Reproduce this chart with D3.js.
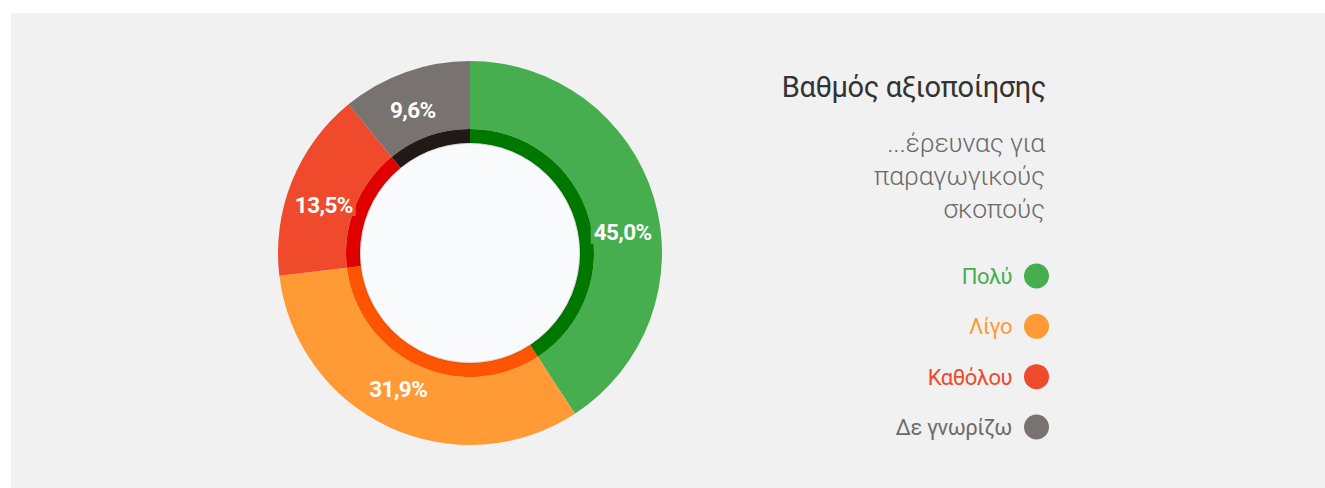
<!DOCTYPE html>
<html>
<head>
<meta charset="utf-8">
<script src="https://cdn.jsdelivr.net/npm/d3@7"></script>
<style>
  html, body { margin: 0; padding: 0; background: #ffffff; }
  svg { display: block; font-family: Roboto, "Noto Sans", sans-serif; }
</style>
</head>
<body>
<svg id="chart" width="1325" height="488"></svg>
<script>
// ---- data ----
const categories = ["Πολύ", "Λίγο", "Καθόλου", "Δε γνωρίζω"];
const values = [45.0, 31.9, 13.5, 9.6];              // printed percentages
const sliceShares = [40.8, 32.3, 16.0, 10.9];         // drawn slice sizes
const titleText = "Βαθμός αξιοποίησης";
const subtitleLines = ["...έρευνας για", "παραγωγικούς", "σκοπούς"];

// ---- styles / layout ----
const outerColors = ["#46ae4e", "#ff9a35", "#ee4a2b", "#787371"];
const innerColors = ["#007800", "#ff5500", "#e10000", "#221818"];
const legendColors = ["#46ae4e", "#ff9a35", "#ee4a2b", "#6f6b6a"];
const labelOffsetDeg = [8.8, 2.75, -3.65, -2.2];

const svg = d3.select("#chart");
svg.append("rect").attr("x", 11).attr("y", 13).attr("width", 1314).attr("height", 475).attr("fill", "#f1f1f1");

const defs = svg.append("defs");
const f = defs.append("filter").attr("id", "shadow").attr("x", "-20%").attr("y", "-20%").attr("width", "140%").attr("height", "140%");
f.append("feDropShadow").attr("dx", 0).attr("dy", 0).attr("stdDeviation", 1.2).attr("flood-color", "#000").attr("flood-opacity", 0.25);

const cx = 470, cy = 253;
const g = svg.append("g").attr("transform", `translate(${cx},${cy})`);

const pie = d3.pie().sort(null).value(d => d.share);
const rows = categories.map((c, i) => ({ cat: c, value: values[i], share: sliceShares[i], i }));
const arcs = pie(rows);

const outerArc = d3.arc().innerRadius(124).outerRadius(192);
const innerArc = d3.arc().innerRadius(109).outerRadius(124);

g.selectAll("path.outer").data(arcs).join("path")
  .attr("class", "outer")
  .attr("d", outerArc)
  .attr("fill", d => outerColors[d.data.i]);

g.selectAll("path.inner").data(arcs).join("path")
  .attr("class", "inner")
  .attr("d", innerArc)
  .attr("fill", d => innerColors[d.data.i]);

g.append("circle").attr("r", 109.5).attr("fill", "#f9fafc").attr("stroke", "#d8d8d8").attr("stroke-width", 1).attr("filter", "url(#shadow)");

// labels
const fmt = v => d3.format(".1f")(v).replace(".", ",") + "%";
const labelR = 154;
const lab = g.selectAll("g.lab").data(arcs).join("g").attr("class", "lab")
  .attr("transform", d => {
    const a = (d.startAngle + d.endAngle) / 2 + labelOffsetDeg[d.data.i] * Math.PI / 180;
    return `translate(${labelR * Math.sin(a)},${-labelR * Math.cos(a)})`;
  });
lab.append("rect").attr("fill", d => outerColors[d.data.i]);
lab.append("text")
  .attr("text-anchor", "middle")
  .attr("dy", "0.36em")
  .attr("fill", "#ffffff")
  .attr("font-weight", 700)
  .attr("font-size", 22.5)
  .attr("letter-spacing", -0.6)
  .text(d => fmt(d.data.value));
lab.each(function() {
  const t = d3.select(this).select("text").node().getBBox();
  d3.select(this).select("rect")
    .attr("x", t.x - 3).attr("y", -11.5).attr("width", t.width + 6).attr("height", 23);
});

// title & subtitle
const rightX = 1046;
svg.append("text").attr("x", rightX).attr("y", 97).attr("text-anchor", "end")
  .attr("font-size", 29).attr("letter-spacing", -0.4).attr("font-weight", 400).attr("fill", "#333333").text(titleText);
svg.append("g").selectAll("text").data(subtitleLines).join("text")
  .attr("x", rightX - 1).attr("y", (d, i) => 151.5 + i * 33)
  .attr("text-anchor", "end").attr("font-size", 26.5).attr("letter-spacing", -0.2).attr("font-weight", 300).attr("fill", "#6a6a6a")
  .text(d => d);

// legend
const legendY = d3.scalePoint().domain(categories).range([276, 427]);
const leg = svg.append("g").selectAll("g").data(categories).join("g")
  .attr("transform", d => `translate(0,${legendY(d)})`);
leg.append("circle").attr("cx", 1036.5).attr("cy", 0).attr("r", 12.5).attr("fill", (d, i) => outerColors[i]);
leg.append("text").attr("x", 1012).attr("y", 0).attr("dy", "0.36em").attr("text-anchor", "end")
  .attr("font-size", 22).attr("letter-spacing", -0.5).attr("font-weight", 400).attr("fill", (d, i) => legendColors[i]).text(d => d);
</script>
</body>
</html>
